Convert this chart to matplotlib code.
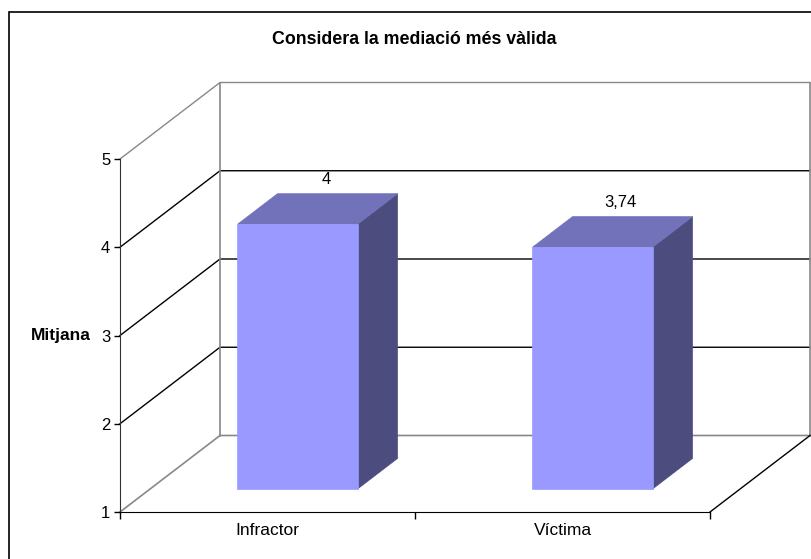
import matplotlib
matplotlib.use('Agg')

import matplotlib.pyplot as plt
from matplotlib.patches import Polygon, Rectangle

plt.rcParams['font.family'] = ['Liberation Sans', 'DejaVu Sans']

# data
categories = ['Infractor', 'Víctima']
values = [4, 3.74]
value_labels = ['4', '3,74']
y_ticks = [1, 2, 3, 4, 5]

title = 'Considera la mediació més vàlida'
y_title = 'Mitjana'

# oblique 3D look: depth shifts x and y by these amounts (data units)
DX = 100 / 295
DY = 76.5 / 88.25
BAR_HALF = 0.2034
D0, D1 = 0.3, 0.7

FRONT = '#9999FF'
TOP = '#7272BA'
SIDE = '#4C4C7E'
WALL = '#888888'


def proj(x, y, d):
    return (x + d * DX, y + d * DY)


fig = plt.figure(figsize=(8.12, 5.59), dpi=100)
ax = fig.add_axes([0, 0, 1, 1])
ax.set_xlim(-120 / 295, 692 / 295)
ax.set_ylim(1 - 47 / 88.25, 1 + 512 / 88.25)
ax.patch.set_visible(False)

n = len(categories)
ymin, ymax = y_ticks[0], y_ticks[-1]

# -----------------------------
# walls, floor and gridlines
# -----------------------------

for v in y_ticks[1:]:
    color = WALL if v == ymax else 'black'
    xs, ys = zip(proj(0, v, 0), proj(0, v, 1), proj(n, v, 1))
    ax.plot(xs, ys, color=color, lw=1, zorder=1)

xs, ys = zip(proj(0, ymin, 0), proj(0, ymin, 1), proj(n, ymin, 1))
ax.plot(xs, ys, color=WALL, lw=1.2, zorder=1)

for x in (0, n):
    xs, ys = zip(proj(x, ymin, 1), proj(x, ymax, 1))
    ax.plot(xs, ys, color=WALL, lw=1.2, zorder=1)

xs, ys = zip(proj(n, ymin, 0), proj(n, ymin, 1))
ax.plot(xs, ys, color='black', lw=1, zorder=1)

# -----------------------------
# bars
# -----------------------------

for i, (v, lab) in enumerate(zip(values, value_labels)):
    cx = i + 0.5
    xl, xr = cx - BAR_HALF, cx + BAR_HALF

    front = [proj(xl, ymin, D0), proj(xr, ymin, D0),
             proj(xr, v, D0), proj(xl, v, D0)]
    top = [proj(xl, v, D0), proj(xr, v, D0),
           proj(xr, v, D1), proj(xl, v, D1)]
    side = [proj(xr, ymin, D0), proj(xr, ymin, D1),
            proj(xr, v, D1), proj(xr, v, D0)]

    for pts, col in ((side, SIDE), (top, TOP), (front, FRONT)):
        ax.add_patch(Polygon(pts, closed=True, facecolor=col,
                             edgecolor=col, lw=0.5, zorder=3))

    ax.annotate(lab, xy=proj(cx, v, 0.5), xytext=(6, 21),
                textcoords='offset points', ha='center', va='center',
                fontsize=12, zorder=4)

# -----------------------------
# axes
# -----------------------------

for s in ('top', 'right'):
    ax.spines[s].set_visible(False)
ax.spines['left'].set_position(('data', 0))
ax.spines['bottom'].set_position(('data', ymin))
ax.spines['left'].set_bounds(ymin, ymax)
ax.spines['bottom'].set_bounds(0, n)
ax.spines['left'].set_color('#333333')

ax.set_yticks(y_ticks)
ax.tick_params(axis='y', direction='out', length=4, width=1,
               pad=3, labelsize=12)

ax.set_xticks(range(n + 1))
ax.set_xticklabels([])
ax.set_xticks([i + 0.5 for i in range(n)], minor=True)
ax.set_xticklabels(categories, minor=True)
ax.tick_params(axis='x', which='major', direction='out', length=5, width=1)
ax.tick_params(axis='x', which='minor', length=0, pad=8, labelsize=12.5)

ax.set_ylabel(y_title, rotation=0, ha='right', va='center',
              fontsize=12.5, fontweight='bold')
ax.yaxis.set_label_coords(-29 / 295, 3, transform=ax.transData)

fig.text(414.5 / 812, 1 - 40 / 559, title, ha='center', va='center',
         fontsize=12.8, fontweight='bold')

# outer chart border
fig.add_artist(Rectangle((9.5 / 812, -0.05), 1.0, 1 - 12 / 559 + 0.05,
                         transform=fig.transFigure, fill=False,
                         edgecolor='black', lw=1.2))

fig.savefig('out.png', dpi=100)
plt.close(fig)
